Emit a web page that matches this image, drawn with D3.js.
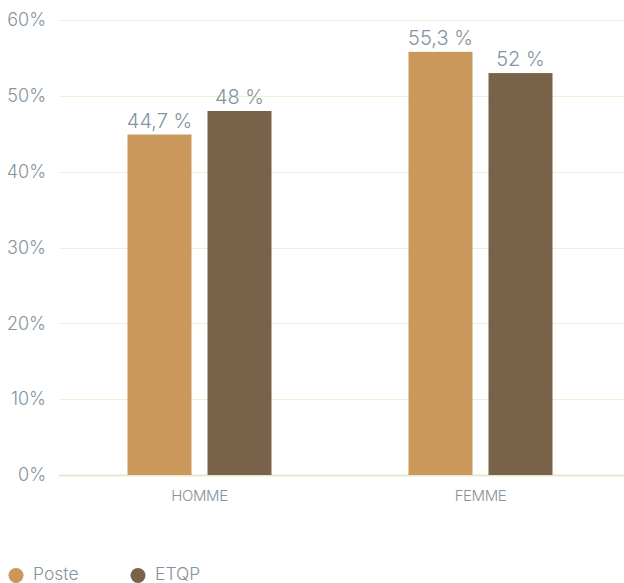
<!DOCTYPE html>
<html>
<head>
<meta charset="utf-8">
<script src="https://cdn.jsdelivr.net/npm/d3@7"></script>
<style>
  html, body { margin: 0; padding: 0; background: #fff; }
  svg { display: block; }
  text { font-family: Inter, Roboto, "Liberation Sans", sans-serif; font-weight: 300; fill: #85939c; }
</style>
</head>
<body>
<svg id="chart" width="624" height="583"></svg>
<script>
const categories = ["HOMME", "FEMME"];
const seriesNames = ["Poste", "ETQP"];
const seriesColors = ["#C9985A", "#7A624A"];
// bar heights as drawn, and printed labels
const posteValues = [44.9, 55.8];
const etqpValues = [48.0, 53.0];
const posteLabels = ["44,7 %", "55,3 %"];
const etqpLabels = ["48 %", "52 %"];
const yTicks = [0, 10, 20, 30, 40, 50, 60];

const svg = d3.select("#chart");
const margin = { left: 59, right: 3 };
const W = 624;

const x = d3.scaleBand().domain(categories).range([margin.left, W - margin.right]);
const y = d3.scaleLinear().domain([0, 60]).range([475, 20]);

// gridlines
svg.append("g").selectAll("line").data(yTicks).join("line")
  .attr("x1", margin.left).attr("x2", W)
  .attr("y1", d => Math.round(y(d)) + 0.5).attr("y2", d => Math.round(y(d)) + 0.5)
  .attr("stroke", d => d === 0 ? "#e4ebcc" : "#ecf1d8").attr("stroke-width", d => d === 0 ? 2 : 1);

// y tick labels
svg.append("g").selectAll("text").data(yTicks).join("text")
  .attr("x", 46).attr("y", d => y(d))
  .attr("dy", "0.35em").attr("text-anchor", "end")
  .style("font-size", "18px")
  .text(d => d + "%");

const barW = 64, gap = 16;
const data = [];
categories.forEach((c, i) => {
  data.push({ cat: c, s: 0, v: posteValues[i], label: posteLabels[i] });
  data.push({ cat: c, s: 1, v: etqpValues[i], label: etqpLabels[i] });
});
const bx = d => x(d.cat) + x.bandwidth() / 2 - barW - gap / 2 + d.s * (barW + gap);

svg.append("g").selectAll("rect").data(data).join("rect")
  .attr("x", bx).attr("width", barW)
  .attr("y", d => y(d.v)).attr("height", d => y(0) - y(d.v))
  .attr("fill", d => seriesColors[d.s]);

svg.append("g").selectAll("text").data(data).join("text")
  .attr("x", d => bx(d) + barW / 2).attr("y", d => y(d.v) - 7)
  .attr("text-anchor", "middle").style("font-size", "20px")
  .text(d => d.label);

// category labels
svg.append("g").selectAll("text").data(categories).join("text")
  .attr("x", d => x(d) + x.bandwidth() / 2).attr("y", 501)
  .attr("text-anchor", "middle").style("font-size", "15px")
  .style("letter-spacing", "-0.4px")
  .text(d => d);

// legend
const lx = [16, 138];
const lg = svg.append("g").selectAll("g").data(seriesNames).join("g")
  .attr("transform", (d, i) => `translate(${lx[i]},575.5)`);
lg.append("circle").attr("r", 7.5).attr("fill", (d, i) => seriesColors[i]);
lg.append("text").attr("x", 17).attr("y", 4.5).style("font-size", "17.5px").text(d => d);
</script>
</body>
</html>
